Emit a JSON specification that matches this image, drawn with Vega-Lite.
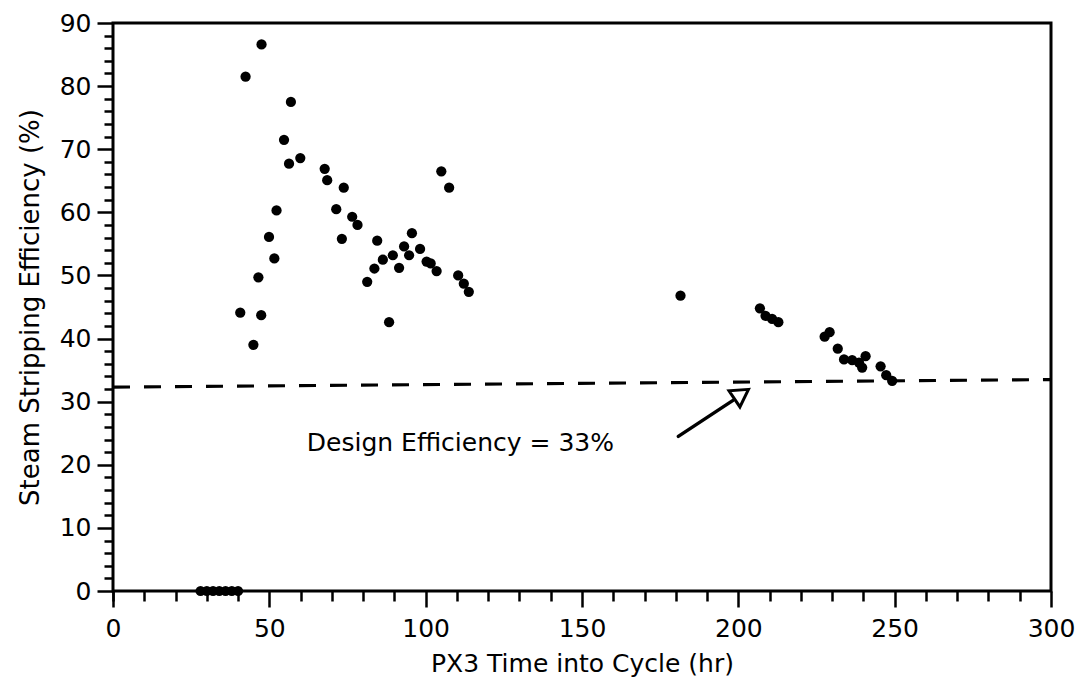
{
  "$schema": "https://vega.github.io/schema/vega-lite/v6.json",
  "width": 938,
  "height": 568,
  "autosize": "none",
  "padding": {"left": 113, "top": 23, "right": 28, "bottom": 91},
  "background": "white",
  "config": {
    "view": {"stroke": "black", "strokeWidth": 3},
    "font": "DejaVu Sans"
  },
  "resolve": {"axis": {"x": "independent", "y": "independent"}},
  "datasets": {
    "points": [
      {"t": 28, "eff": 0}, {"t": 30, "eff": 0}, {"t": 32, "eff": 0}, {"t": 34, "eff": 0},
      {"t": 36, "eff": 0}, {"t": 38, "eff": 0}, {"t": 40, "eff": 0},
      {"t": 40.7, "eff": 44.1}, {"t": 42.4, "eff": 81.5}, {"t": 44.9, "eff": 39.0},
      {"t": 46.5, "eff": 49.7}, {"t": 47.4, "eff": 43.7}, {"t": 47.5, "eff": 86.6},
      {"t": 49.9, "eff": 56.1}, {"t": 51.6, "eff": 52.7}, {"t": 52.3, "eff": 60.3},
      {"t": 54.7, "eff": 71.5}, {"t": 56.3, "eff": 67.7}, {"t": 56.9, "eff": 77.5},
      {"t": 59.9, "eff": 68.6}, {"t": 67.7, "eff": 66.9}, {"t": 68.5, "eff": 65.1},
      {"t": 71.4, "eff": 60.5}, {"t": 73.2, "eff": 55.8}, {"t": 73.8, "eff": 63.9},
      {"t": 76.5, "eff": 59.3}, {"t": 78.2, "eff": 58.0}, {"t": 81.3, "eff": 49.0},
      {"t": 83.6, "eff": 51.1}, {"t": 84.5, "eff": 55.5}, {"t": 86.3, "eff": 52.5},
      {"t": 88.3, "eff": 42.6}, {"t": 89.5, "eff": 53.2}, {"t": 91.5, "eff": 51.2},
      {"t": 93.1, "eff": 54.6}, {"t": 94.7, "eff": 53.2}, {"t": 95.6, "eff": 56.7},
      {"t": 98.2, "eff": 54.2}, {"t": 100.3, "eff": 52.2}, {"t": 101.6, "eff": 51.9},
      {"t": 103.5, "eff": 50.7}, {"t": 105.0, "eff": 66.5}, {"t": 107.5, "eff": 63.9},
      {"t": 110.4, "eff": 50.0}, {"t": 112.2, "eff": 48.7}, {"t": 113.8, "eff": 47.4},
      {"t": 181.5, "eff": 46.8}, {"t": 206.9, "eff": 44.8}, {"t": 208.7, "eff": 43.6},
      {"t": 210.8, "eff": 43.1}, {"t": 212.8, "eff": 42.6}, {"t": 227.6, "eff": 40.3},
      {"t": 229.2, "eff": 41.0}, {"t": 231.8, "eff": 38.4}, {"t": 233.8, "eff": 36.7},
      {"t": 236.4, "eff": 36.6}, {"t": 238.6, "eff": 36.2}, {"t": 239.6, "eff": 35.4},
      {"t": 240.7, "eff": 37.2}, {"t": 245.5, "eff": 35.6}, {"t": 247.3, "eff": 34.2},
      {"t": 249.2, "eff": 33.3}
    ],
    "design": [{"t": 0, "eff": 32.3}, {"t": 300, "eff": 33.5}],
    "label": [{"t": 62, "eff": 23.5, "text": "Design Efficiency = 33%"}],
    "arrow": [{"t": 180.8, "eff": 24.5}, {"t": 198.3, "eff": 30.2}],
    "head": [{"t": 201.0, "eff": 31.2}]
  },
  "layer": [
    {
      "data": {"name": "design"},
      "mark": {"type": "line", "color": "black", "strokeWidth": 3.2, "strokeDash": [17, 14]},
      "encoding": {
        "x": {
          "field": "t", "type": "quantitative",
          "scale": {"domain": [0, 300], "nice": false, "zero": false},
          "axis": {
            "orient": "bottom",
            "title": null,
            "values": [0,10,20,30,40,60,70,80,90,110,120,130,140,160,170,180,190,210,220,230,240,260,270,280,290],
            "tickCount": 1000,
            "labels": false,
            "tickSize": 10,
            "tickWidth": 2.5, "tickColor": "black",
            "domain": false, "grid": false
          }
        },
        "y": {
          "field": "eff", "type": "quantitative",
          "scale": {"domain": [0, 90], "nice": false, "zero": false},
          "axis": {
            "orient": "left",
            "title": null,
            "values": [2,4,6,8,12,14,16,18,22,24,26,28,32,34,36,38,42,44,46,48,52,54,56,58,62,64,66,68,72,74,76,78,82,84,86,88],
            "tickCount": 1000,
            "labels": false,
            "tickSize": 9,
            "tickWidth": 2.5, "tickColor": "black",
            "domain": false, "grid": false
          }
        }
      }
    },
    {
      "data": {"name": "points"},
      "mark": {"type": "circle", "color": "black", "opacity": 1, "size": 105},
      "encoding": {
        "x": {
          "field": "t", "type": "quantitative",
          "axis": {
            "orient": "bottom",
            "title": "PX3 Time into Cycle (hr)",
            "values": [0, 50, 100, 150, 200, 250, 300],
            "format": "d",
            "tickSize": 16,
            "tickWidth": 2.5, "tickColor": "black",
            "domain": false, "grid": false,
            "labelFontSize": 25, "labelColor": "black", "labelPadding": 9,
            "labelOverlap": false, "labelFlush": false, "labelBound": false,
            "titleFontSize": 25, "titleFontWeight": "normal", "titleColor": "black", "titlePadding": 10
          }
        },
        "y": {
          "field": "eff", "type": "quantitative",
          "axis": {
            "orient": "left",
            "title": "Steam Stripping Efficiency (%)",
            "values": [0, 10, 20, 30, 40, 50, 60, 70, 80, 90],
            "format": "d",
            "tickSize": 16,
            "tickWidth": 2.5, "tickColor": "black",
            "domain": false, "grid": false,
            "labelFontSize": 25, "labelColor": "black", "labelPadding": 6,
            "labelOverlap": false, "labelFlush": false, "labelBound": false,
            "titleFontSize": 26, "titleFontWeight": "normal", "titleColor": "black", "titlePadding": 16
          }
        }
      }
    },
    {
      "data": {"name": "label"},
      "mark": {"type": "text", "align": "left", "baseline": "middle", "fontSize": 25, "color": "black"},
      "encoding": {
        "x": {"field": "t", "type": "quantitative", "axis": null},
        "y": {"field": "eff", "type": "quantitative", "axis": null},
        "text": {"field": "text"}
      }
    },
    {
      "data": {"name": "arrow"},
      "mark": {"type": "line", "color": "black", "strokeWidth": 3.5, "strokeCap": "round"},
      "encoding": {
        "x": {"field": "t", "type": "quantitative", "axis": null},
        "y": {"field": "eff", "type": "quantitative", "axis": null}
      }
    },
    {
      "data": {"name": "head"},
      "mark": {"type": "point", "shape": "triangle-up", "angle": 56, "size": 380, "filled": true, "fill": "white", "stroke": "black", "strokeWidth": 3, "opacity": 1},
      "encoding": {
        "x": {"field": "t", "type": "quantitative", "axis": null},
        "y": {"field": "eff", "type": "quantitative", "axis": null}
      }
    }
  ]
}
